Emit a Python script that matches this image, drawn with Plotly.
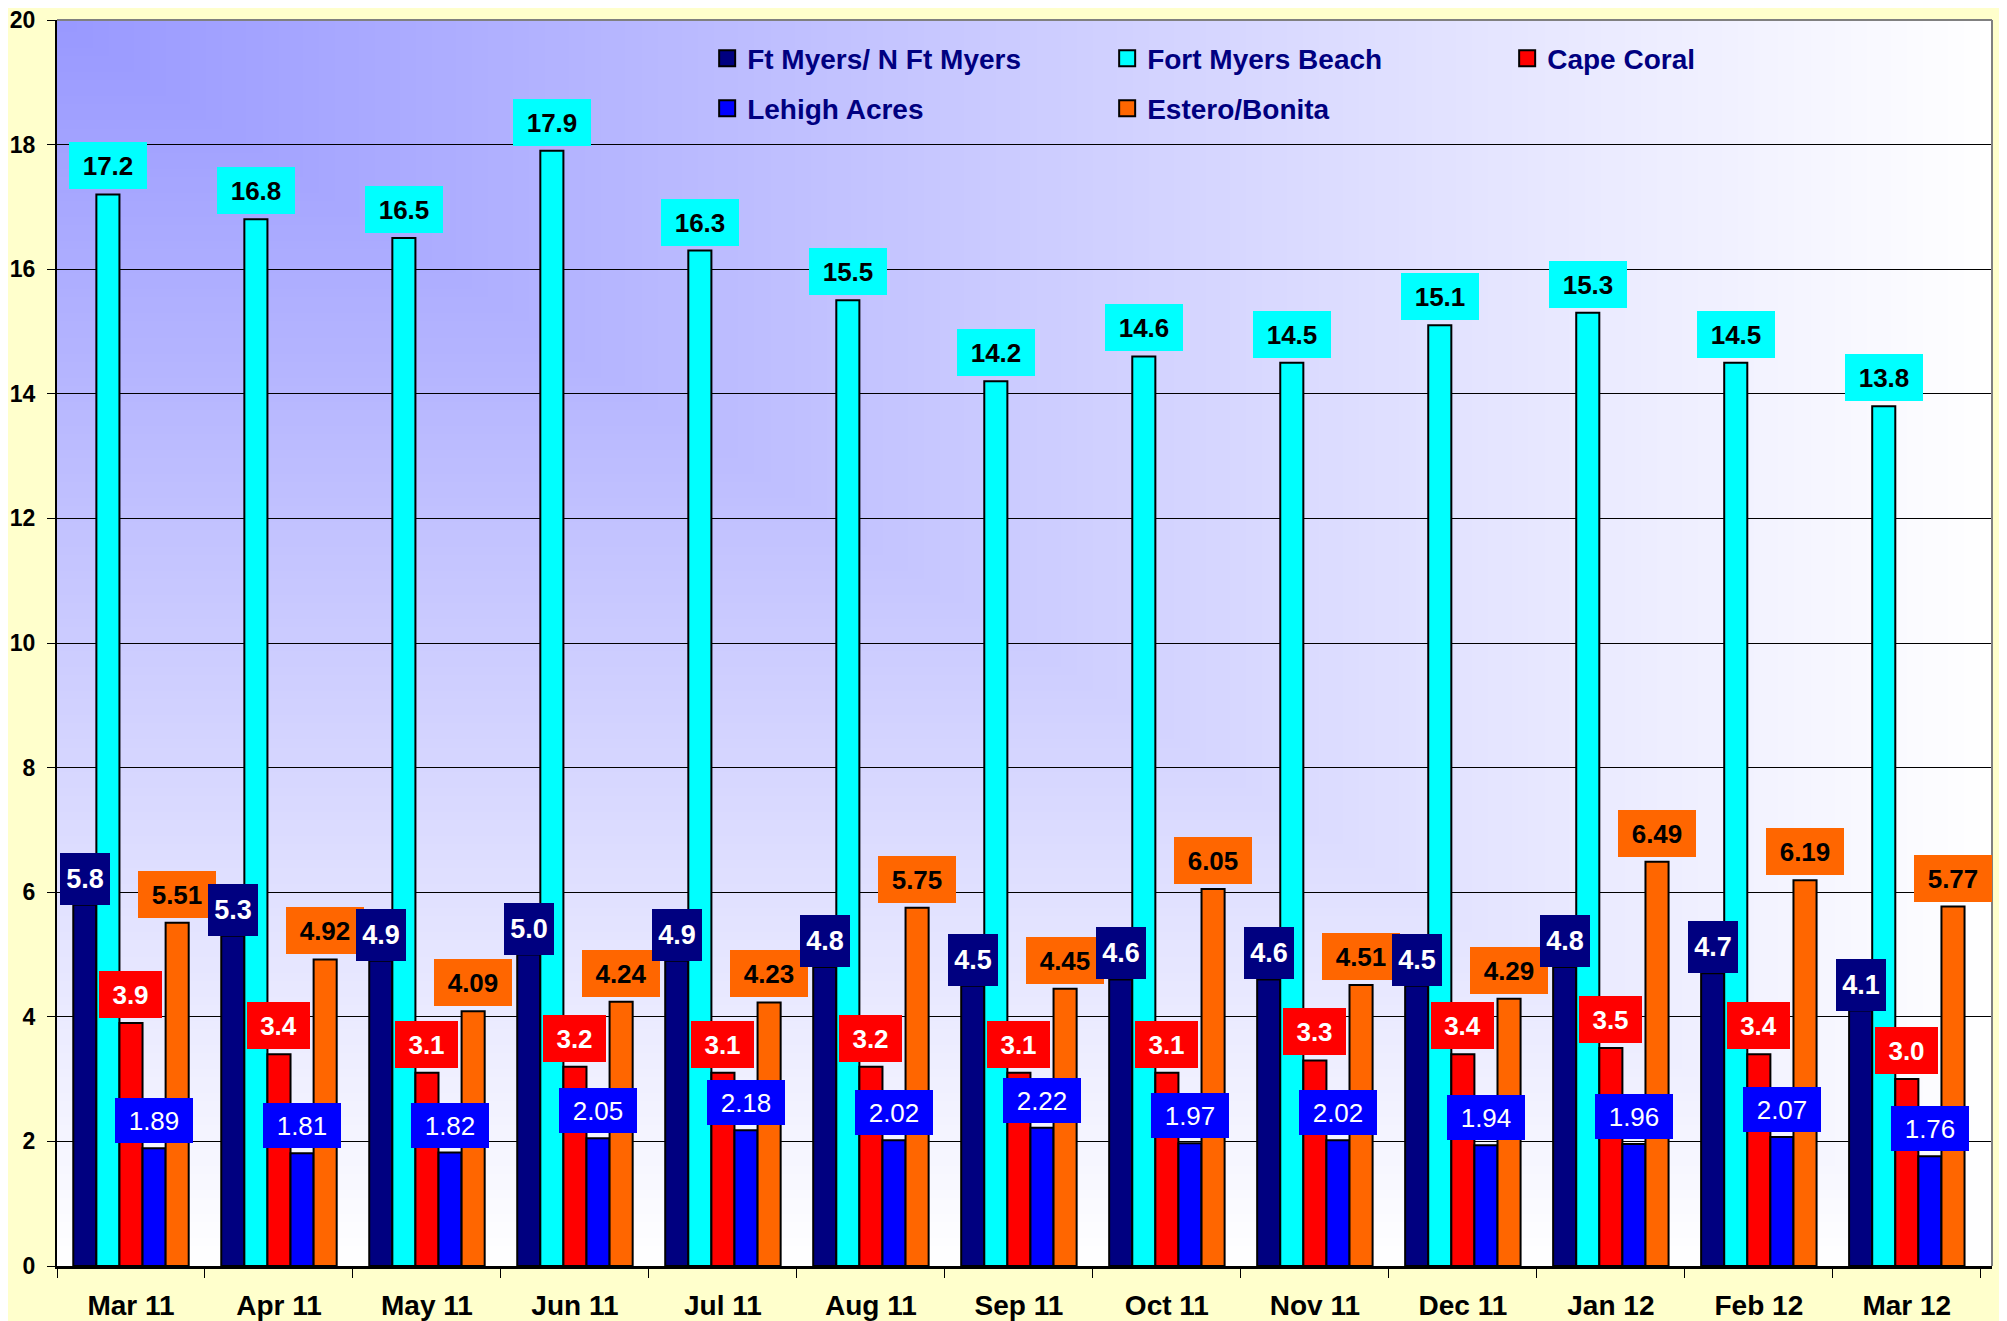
import base64
import struct
import zlib

import plotly.graph_objects as go

# ---------------- data ----------------
months = ["Mar 11", "Apr 11", "May 11", "Jun 11", "Jul 11", "Aug 11", "Sep 11",
          "Oct 11", "Nov 11", "Dec 11", "Jan 12", "Feb 12", "Mar 12"]
ft_myers = [5.8, 5.3, 4.9, 5.0, 4.9, 4.8, 4.5, 4.6, 4.6, 4.5, 4.8, 4.7, 4.1]
fort_myers_beach = [17.2, 16.8, 16.5, 17.9, 16.3, 15.5, 14.2, 14.6, 14.5, 15.1, 15.3, 14.5, 13.8]
cape_coral = [3.9, 3.4, 3.1, 3.2, 3.1, 3.2, 3.1, 3.1, 3.3, 3.4, 3.5, 3.4, 3.0]
lehigh_acres = [1.89, 1.81, 1.82, 2.05, 2.18, 2.02, 2.22, 1.97, 2.02, 1.94, 1.96, 2.07, 1.76]
estero_bonita = [5.51, 4.92, 4.09, 4.24, 4.23, 5.75, 4.45, 6.05, 4.51, 4.29, 6.49, 6.19, 5.77]
y_ticks = [0, 2, 4, 6, 8, 10, 12, 14, 16, 18, 20]

series_names = ["Ft Myers/ N Ft Myers", "Fort Myers Beach", "Cape Coral",
                "Lehigh Acres", "Estero/Bonita"]
series_values = [ft_myers, fort_myers_beach, cape_coral, lehigh_acres, estero_bonita]
series_colors = ["#000080", "#00FFFF", "#FF0000", "#0000FF", "#FF6600"]
label_formats = ["{:.1f}", "{:.1f}", "{:.1f}", "{:.2f}", "{:.2f}"]
# label style: (font colour, bold, box width, box height, gap above bar)
label_styles = [
    ("white", True, 50, 52, 0),
    ("black", True, 78, 47, 5),
    ("white", True, 63, 47, 5),
    ("white", False, 78, 45, 5),
    ("black", True, 78, 47, 5),
]

FONT = "Arial, Liberation Sans, sans-serif"
W, H = 2007, 1321
# the page body adds an 8px offset; margins compensate so the plot area
# lands where it sits in the reference
ML, MR, MT, MB = 49, 23, 12, 63
BARGAP = 0.22


# ---------------- gradient background (PNG built in memory) ----------------
def png_data_uri(w, h, fn):
    raw = bytearray()
    for yy in range(h):
        raw.append(0)
        for xx in range(w):
            raw.extend(fn(xx / (w - 1), yy / (h - 1)))

    def chunk(tag, data):
        c = struct.pack(">I", len(data)) + tag + data
        return c + struct.pack(">I", zlib.crc32(tag + data) & 0xFFFFFFFF)

    png = (b"\x89PNG\r\n\x1a\n"
           + chunk(b"IHDR", struct.pack(">IIBBBBB", w, h, 8, 2, 0, 0, 0))
           + chunk(b"IDAT", zlib.compress(bytes(raw), 9))
           + chunk(b"IEND", b""))
    return "data:image/png;base64," + base64.b64encode(png).decode()


def corner_gradient(u, v):
    t = max(u, v)
    c0 = (153, 153, 255)
    c1 = (255, 255, 255)
    return bytes(int(round(a + (b - a) * t)) for a, b in zip(c0, c1))


bg_uri = png_data_uri(240, 155, corner_gradient)

# ---------------- figure ----------------
fig = go.Figure()
for i, (name, vals, color) in enumerate(zip(series_names, series_values, series_colors)):
    fig.add_trace(go.Bar(
        x=months, y=vals, name=name,
        marker=dict(color=color, line=dict(color="black", width=2)),
        showlegend=False,
        hoverinfo="x+y+name",
    ))
# legend entries (larger square swatches than the default bar icon)
for i, (name, color) in enumerate(zip(series_names, series_colors)):
    fig.add_trace(go.Scatter(
        x=[None], y=[None], name=name, mode="markers",
        marker=dict(symbol="square", size=17, color=color,
                    line=dict(color="black", width=2)),
        legend="legend" if i < 3 else "legend2",
        showlegend=True,
    ))

# data labels: drawn in reverse series order so navy boxes end up on top
annotations = []
n_series = len(series_names)
bar_frac = (1 - BARGAP) / n_series
for i in reversed(range(n_series)):
    fcolor, bold, bw, bh, gap = label_styles[i]
    for j, v in enumerate(series_values[i]):
        annotations.append(dict(
            x=j + (i - (n_series - 1) / 2) * bar_frac, xref="x",
            y=v, yref="y",
            text=label_formats[i].format(v),
            showarrow=False,
            yanchor="bottom", xanchor="center",
            yshift=gap,
            bgcolor=series_colors[i],
            borderpad=0, borderwidth=0,
            width=bw, height=bh,
            align="center", valign="middle",
            font=dict(family=FONT, size=26 if i else 27, color=fcolor,
                      weight="bold" if bold else "normal"),
        ))

legend_common = dict(
    orientation="h", xanchor="left", yanchor="top",
    entrywidth=355, entrywidthmode="pixels",
    bgcolor="rgba(0,0,0,0)", borderwidth=0,
    font=dict(family=FONT, size=28, color="#000080", weight="bold"),
    itemwidth=30, traceorder="normal",
)

fig.update_layout(
    width=W, height=H,
    margin=dict(l=ML, r=MR, t=MT, b=MB, autoexpand=False),
    paper_bgcolor="#FFFFCC",
    plot_bgcolor="rgba(0,0,0,0)",
    barmode="group", bargap=BARGAP, bargroupgap=0,
    showlegend=True,
    legend=dict(x=0.336, y=0.9892, **legend_common),
    legend2=dict(x=0.336, y=0.949, **legend_common),
    annotations=annotations,
    images=[dict(source=bg_uri, xref="paper", yref="paper", x=0, y=1,
                 sizex=1, sizey=1, xanchor="left", yanchor="top",
                 sizing="stretch", layer="below")],
    shapes=[
        dict(type="line", xref="paper", yref="paper", x0=0, x1=1, y0=1, y1=1,
             line=dict(color="#808080", width=2), layer="above"),
        dict(type="line", xref="paper", yref="paper", x0=1, x1=1, y0=0, y1=1,
             line=dict(color="#808080", width=2), layer="above"),
    ],
    xaxis=dict(
        type="category", automargin=False,
        showline=True, linecolor="black", linewidth=3,
        ticks="outside", ticklen=9, tickwidth=1, tickcolor="black",
        tickson="boundaries",
        showgrid=False,
        tickfont=dict(family=FONT, size=28, color="black", weight="bold"),
        ticklabelstandoff=12,
    ),
    yaxis=dict(
        range=[0, 20], tickvals=y_ticks, automargin=False,
        showline=True, linecolor="black", linewidth=2,
        ticks="outside", ticklen=8, tickwidth=1, tickcolor="black",
        showgrid=True, gridcolor="black", gridwidth=1,
        zeroline=False,
        ticklabeloverflow="allow",
        tickfont=dict(family=FONT, size=23, color="black", weight="bold"),
        ticklabelstandoff=7,
    ),
)

fig.write_html("out.html")
